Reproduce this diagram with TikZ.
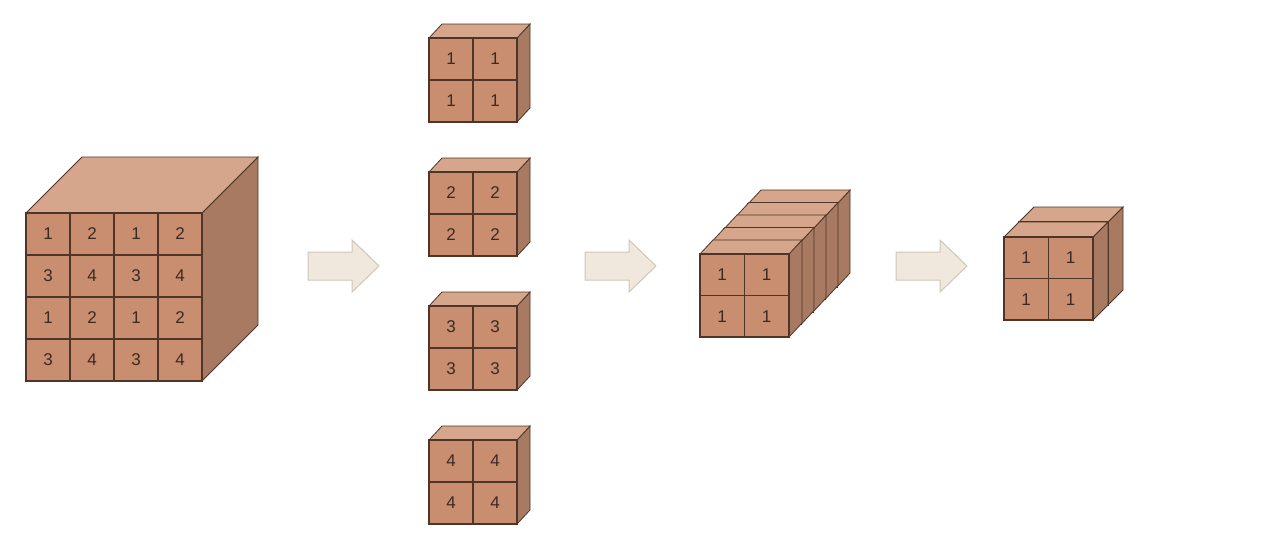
\documentclass[tikz,border=0pt]{standalone}
\usepackage{fontspec}
\setmainfont{Liberation Sans}
\begin{document}
\begin{tikzpicture}[x=0.5pt,y=-0.5pt,
  frontf/.style={fill=front,draw=edge,line width=0.7pt},
  topf/.style={fill=topc,draw=edge,line width=0.4pt},
  sidef/.style={fill=sidec,draw=edge,line width=0.4pt},
  lab/.style={font=\fontsize{8.5}{9}\selectfont,text=txt,inner sep=0pt},
  barrow/.style={fill=arrowf,draw=arrowd,line width=0.5pt}]
\definecolor{front}{HTML}{C98E70}
\definecolor{topc}{HTML}{D5A68C}
\definecolor{sidec}{HTML}{A87A62}
\definecolor{edge}{HTML}{4E3528}
\definecolor{txt}{HTML}{3A2A22}
\definecolor{arrowf}{HTML}{F0E8DC}
\definecolor{arrowd}{HTML}{CFC6BA}
\useasboundingbox (0,0) rectangle (1280,547);
\fill[white] (0,0) rectangle (1280,547);
% #1 x, #2 y, #3 w, #4 h, #5 dx, #6 dy
\newcommand\mycube[6]{%
  \path[sidef] (#1+#3,#2) -- ++(#5,-#6) -- ++(0,#4) -- ++(-#5,#6) -- cycle;
  \path[topf] (#1,#2) -- ++(#5,-#6) -- ++(#3,0) -- ++(-#5,#6) -- cycle;
  \path[frontf] (#1,#2) rectangle ++(#3,#4);}
% big cube
\mycube{26}{213}{176}{168}{56}{56}
\foreach \r/\row in {0/{1,2,1,2},1/{3,4,3,4},2/{1,2,1,2},3/{3,4,3,4}}{
  \foreach \v [count=\c from 0] in \row {
    \draw[edge,line width=0.7pt] (26+44*\c,213+42*\r) rectangle ++(44,42);
    \node[lab] (b\r\c) at (48+44*\c,234+42*\r) {\v};
  }}
% four small cubes
\foreach \k/\y in {1/38,2/172,3/306,4/440}{
  \mycube{429}{\y}{88}{84}{13}{14}
  \foreach \r in {0,1}{\foreach \c in {0,1}{
    \draw[edge,line width=0.7pt] (429+44*\c,\y+42*\r) rectangle ++(44,42);
    \node[lab] (s\k\r\c) at (451+44*\c,\y+21+42*\r) {\k};}}
}
% stack
\foreach \s in {4,3,2,1,0}{
  \mycube{700+12*\s}{254-12.5*\s}{89}{83}{13}{14}
}
\foreach \r in {0,1}{\foreach \c in {0,1}{
  \draw[edge,line width=0.7pt] (700+44.5*\c,254+41.5*\r) rectangle ++(44.5,41.5);
  \node[lab] (t\r\c) at (722+44.5*\c,275+41.5*\r) {1};}}
% final
\foreach \s in {1,0}{
  \mycube{1004+15*\s}{237-15*\s}{89}{83}{15}{15}
}
\foreach \r in {0,1}{\foreach \c in {0,1}{
  \draw[edge,line width=0.7pt] (1004+44.5*\c,237+41.5*\r) rectangle ++(44.5,41.5);
  \node[lab] (f\r\c) at (1026+44.5*\c,258+41.5*\r) {1};}}
% arrows
\foreach \x in {308,585,896}{
  \path[barrow] (\x,252) -- (\x+44,252) -- (\x+44,240) -- (\x+71,266) -- (\x+44,292) -- (\x+44,280) -- (\x,280) -- cycle;
}
\end{tikzpicture}
\end{document}
